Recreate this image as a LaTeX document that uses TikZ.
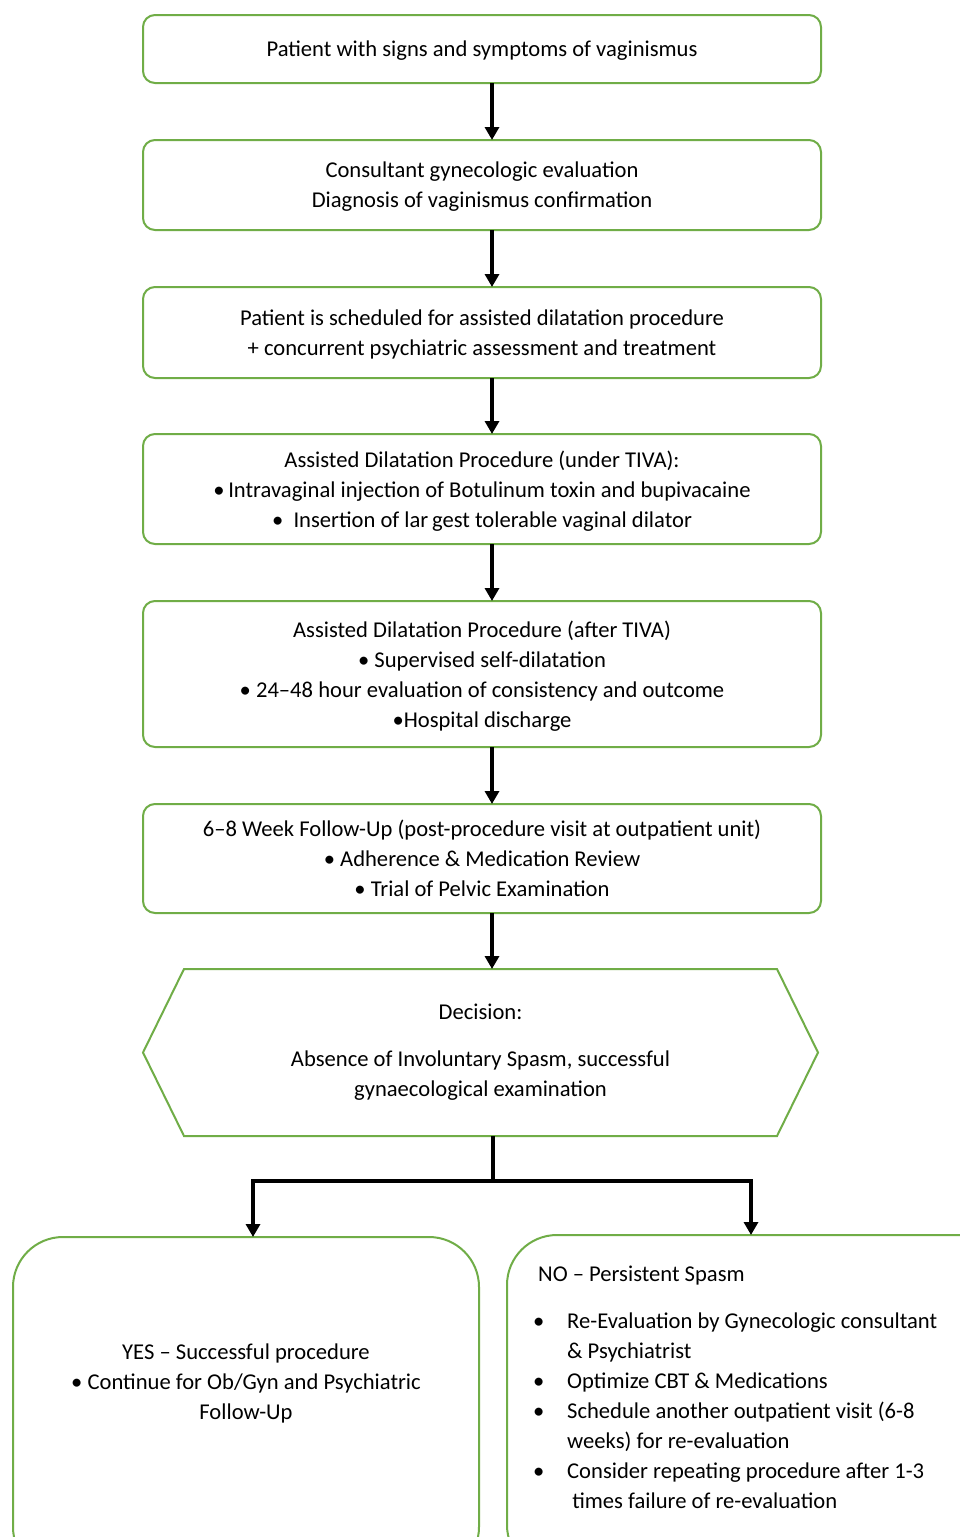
\documentclass[tikz,border=0pt]{standalone}
\usepackage{fontspec}
\setmainfont{Carlito}
\usetikzlibrary{arrows.meta, positioning, calc}
\definecolor{leafgreen}{HTML}{70AD47}

\begin{document}
\begin{tikzpicture}[x=1pt, y=-1pt,
        node distance=57pt,
        box/.style={rectangle, draw=leafgreen, line width=2pt, rounded corners=12pt, minimum width=678pt, inner sep=0pt, outer sep=0pt, align=center, font=\fontsize{22.6}{30}\selectfont, text depth=-5pt},
        bigbox/.style={rectangle, draw=leafgreen, line width=2pt, rounded corners=50pt, inner sep=0pt, outer sep=0pt},
        txt/.style={inner sep=0pt, outer sep=0pt, align=center, font=\fontsize{22.6}{30}\selectfont},
        arrow/.style={line width=3.6pt, -{Triangle[length=13pt, width=14pt]}},
        link/.style={line width=3.6pt}
        ]
        \clip (0,0) rectangle (960,1537);
        \fill[white] (0,0) rectangle (960,1537);
        \coordinate (stem) at (492,0);

        \node[box, minimum height=68pt] (signs) at (482,49) {Patient with signs and symptoms of vaginismus};
        \node[box, minimum height=90pt, below=of signs] (consult) {Consultant gynecologic evaluation\\Diagnosis of vaginismus confirmation};
        \node[box, minimum height=91pt, below=of consult] (schedule) {Patient is scheduled for assisted dilatation procedure\\+ concurrent psychiatric assessment and treatment};
        \node[box, minimum height=110pt, below=56pt of schedule, text depth=-10pt] (under) {Assisted Dilatation Procedure (under TIVA):\\•\,Intravaginal injection of Botulinum toxin and bupivacaine\\•\ \ Insertion of lar\,gest tolerable vaginal dilator};
        \node[box, minimum height=146pt, below=of under] (after) {Assisted Dilatation Procedure (after TIVA)\\• Supervised self-dilatation\\• 24–48 hour evaluation of consistency and outcome\\•Hospital discharge};
        \node[box, minimum height=109pt, below=of after, text depth=-8pt] (followup) {6–8 Week Follow-Up (post-procedure visit at outpatient unit)\\• Adherence \& Medication Review\\• Trial of Pelvic Examination};
        \node[txt, minimum width=675pt, minimum height=167pt, below=56pt of followup, xshift=-1.5pt] (decision) {Decision:\\[17pt]Absence of Involuntary Spasm, successful\\gynaecological examination};
        \draw[draw=leafgreen, line width=2pt] ([xshift=41pt]decision.north west) -- ([xshift=-41pt]decision.north east) -- (decision.east) -- ([xshift=-41pt]decision.south east) -- ([xshift=41pt]decision.south west) -- (decision.west) -- cycle;

        \node[bigbox, minimum width=466pt, minimum height=340pt, anchor=north west] (yesbox) at (13,1237) {};
        \node[txt] (yestext) at (246,1383) {YES – Successful procedure\\• Continue for Ob/Gyn and Psychiatric\\Follow-Up};
        \node[bigbox, minimum width=520pt, minimum height=340pt, anchor=north west] (nobox) at (507,1235) {};
        \node[inner sep=0pt, anchor=base west, font=\fontsize{22.6}{30}\selectfont] (notext) at (533,1281) {%
          \begin{tabular}[t]{@{}p{34pt}@{}l@{}}
            \multicolumn{2}{@{}l@{}}{\hspace{5pt}NO – Persistent Spasm}\\[17pt]
            • & Re-Evaluation by Gynecologic consultant\\
              & \& Psychiatrist\\
            • & Optimize CBT \& Medications\\
            • & Schedule another outpatient visit (6-8\\
              & weeks) for re-evaluation\\
            • & Consider repeating procedure after 1-3\\
              & \ times failure of re-evaluation
          \end{tabular}};

        \draw[arrow] (signs.south -| stem) -- (consult.north -| stem);
        \draw[arrow] (consult.south -| stem) -- (schedule.north -| stem);
        \draw[arrow] (schedule.south -| stem) -- (under.north -| stem);
        \draw[arrow] (under.south -| stem) -- (after.north -| stem);
        \draw[arrow] (after.south -| stem) -- (followup.north -| stem);
        \draw[arrow] (followup.south -| stem) -- (decision.north -| stem);

        \coordinate (split) at (493,1181);
        \draw[link] (decision.south -| split) -- (split);
        \draw[arrow] (split) -| ([xshift=7pt]yesbox.north);
        \draw[arrow] (split) -| ([xshift=-16pt]nobox.north);
    \end{tikzpicture}
\end{document}
